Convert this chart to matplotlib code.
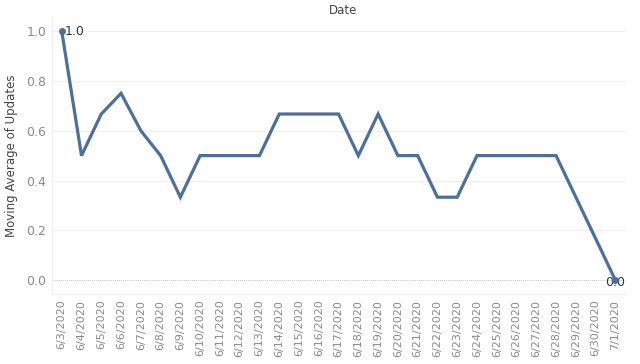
import matplotlib.pyplot as plt

dates = ["6/3/2020", "6/4/2020", "6/5/2020", "6/6/2020", "6/7/2020", "6/8/2020",
         "6/9/2020", "6/10/2020", "6/11/2020", "6/12/2020", "6/13/2020", "6/14/2020",
         "6/15/2020", "6/16/2020", "6/17/2020", "6/18/2020", "6/19/2020", "6/20/2020",
         "6/21/2020", "6/22/2020", "6/23/2020", "6/24/2020", "6/25/2020", "6/26/2020",
         "6/27/2020", "6/28/2020", "6/29/2020", "6/30/2020", "7/1/2020"]
moving_avg = [1.0, 0.5, 0.667, 0.75, 0.6, 0.5,
              0.333, 0.5, 0.5, 0.5, 0.5, 0.667,
              0.667, 0.667, 0.667, 0.5, 0.667, 0.5,
              0.5, 0.333, 0.333, 0.5, 0.5, 0.5,
              0.5, 0.5, 0.333, 0.167, 0.0]
y_ticks = [0.0, 0.2, 0.4, 0.6, 0.8, 1.0]

LINE = "#4e6f98"

fig = plt.figure(figsize=(6.4, 3.64), dpi=100)
ax = fig.add_axes([0.081, 0.192, 0.896, 0.761])

x = list(range(len(dates)))
ax.plot(x, moving_avg, color=LINE, linewidth=2.3, solid_joinstyle="miter", zorder=3)
# dots + labels on first and last point
ax.plot([x[0], x[-1]], [moving_avg[0], moving_avg[-1]], "o", color=LINE, markersize=4, zorder=4)
ax.text(x[0] + 0.15, moving_avg[0], f"{moving_avg[0]:.1f}", fontsize=9, color="#333333",
        va="center", ha="left")
ax.text(x[-1], moving_avg[-1] - 0.01, f"{moving_avg[-1]:.1f}", fontsize=9, color="#333333",
        va="center", ha="center")

ax.set_xlim(-0.5, len(dates) - 0.5)
ax.set_ylim(-0.056, 1.056)
ax.set_yticks(y_ticks)
ax.set_yticklabels([f"{v:.1f}" for v in y_ticks], fontsize=9, color="#8a8a8a")
ax.set_xticks(x)
ax.set_xticklabels(dates, rotation=90, fontsize=8, color="#8a8a8a")
ax.tick_params(length=0, pad=4)

for v in y_ticks[1:]:
    ax.axhline(v, color="#efefef", linewidth=0.8, zorder=1)
ax.axhline(0.0, color="#b0b0b0", linewidth=0.6, linestyle=(0, (1, 1.5)), zorder=1)

for s in ["top", "right"]:
    ax.spines[s].set_visible(False)
for s in ["left", "bottom"]:
    ax.spines[s].set_color("#eeeeee")
    ax.spines[s].set_linewidth(0.8)

ax.set_ylabel("Moving Average of Updates", fontsize=8.5, color="#444444", labelpad=6)
fig.text(0.536, 0.99, "Date", fontsize=8.5, color="#444444", ha="center", va="top")

fig.savefig("out.png", dpi=100)
